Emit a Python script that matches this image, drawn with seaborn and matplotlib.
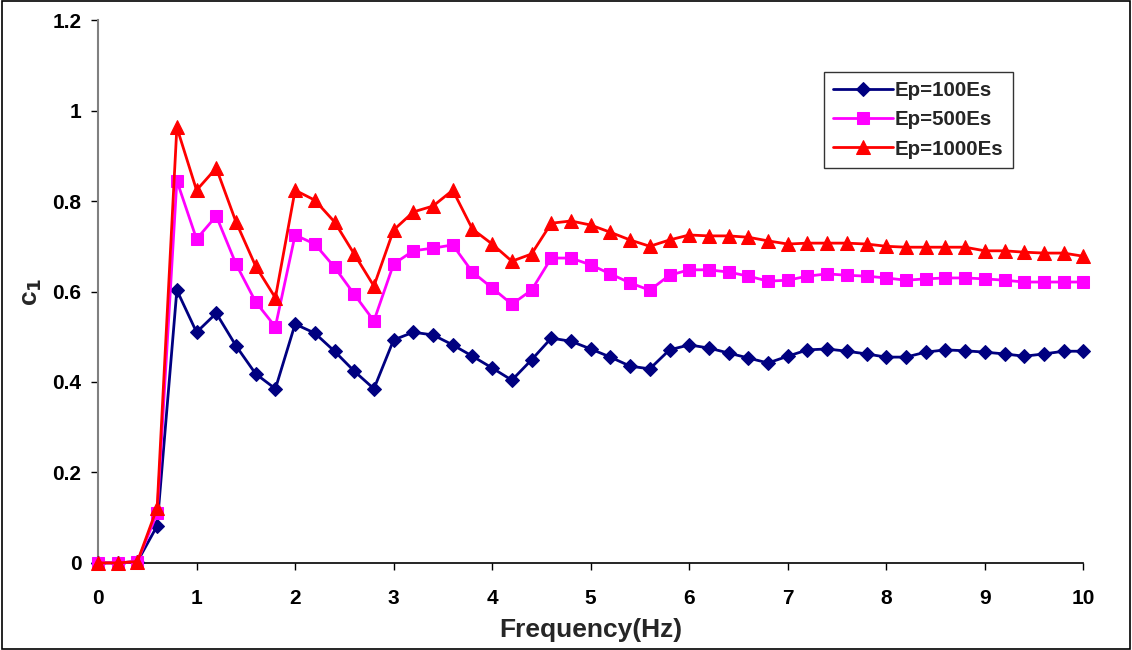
import numpy as np
import pandas as pd
import seaborn as sns
import matplotlib
matplotlib.use("Agg")
import matplotlib.pyplot as plt
from matplotlib.patches import Rectangle

freq = [round(0.2 * i, 1) for i in range(51)]

ep100 = [0, 0, 0.003, 0.082, 0.603, 0.51, 0.552, 0.48, 0.418, 0.385,
         0.528, 0.508, 0.468, 0.424, 0.385, 0.493, 0.51, 0.504, 0.482, 0.457,
         0.431, 0.404, 0.449, 0.497, 0.49, 0.473, 0.455, 0.435, 0.429, 0.471,
         0.482, 0.475, 0.464, 0.453, 0.442, 0.457, 0.471, 0.473, 0.468, 0.462,
         0.455, 0.455, 0.466, 0.471, 0.469, 0.466, 0.462, 0.457, 0.462, 0.468,
         0.468]
ep500 = [0, 0, 0.003, 0.11, 0.845, 0.716, 0.767, 0.661, 0.577, 0.522,
         0.725, 0.705, 0.654, 0.594, 0.535, 0.661, 0.69, 0.696, 0.703, 0.643,
         0.608, 0.572, 0.603, 0.674, 0.674, 0.659, 0.639, 0.619, 0.603, 0.636,
         0.648, 0.648, 0.643, 0.634, 0.623, 0.625, 0.634, 0.639, 0.636, 0.634,
         0.63, 0.625, 0.628, 0.63, 0.63, 0.628, 0.625, 0.621, 0.621, 0.621,
         0.621]
ep1000 = [0, 0, 0.003, 0.122, 0.963, 0.824, 0.873, 0.754, 0.656, 0.586,
          0.824, 0.802, 0.754, 0.683, 0.612, 0.736, 0.776, 0.789, 0.824, 0.738,
          0.705, 0.667, 0.683, 0.751, 0.756, 0.747, 0.731, 0.714, 0.7, 0.714,
          0.725, 0.723, 0.723, 0.72, 0.712, 0.705, 0.707, 0.707, 0.707, 0.705,
          0.7, 0.698, 0.698, 0.698, 0.698, 0.69, 0.69, 0.687, 0.685, 0.685,
          0.678]

labels = ["Ep=100Es", "Ep=500Es", "Ep=1000Es"]
series = [ep100, ep500, ep1000]
colors = {"Ep=100Es": "#000080", "Ep=500Es": "#FF00FF", "Ep=1000Es": "#FF0000"}
markers = {"Ep=100Es": "D", "Ep=500Es": "s", "Ep=1000Es": "^"}
msizes = {"Ep=100Es": 7.5, "Ep=500Es": 9, "Ep=1000Es": 10}

df = pd.concat([pd.DataFrame({"Frequency": freq, "c1": v, "Series": l})
                for l, v in zip(labels, series)], ignore_index=True)

sns.set_style("white")
plt.rcParams['font.family'] = ['Liberation Sans', 'DejaVu Sans']
plt.rcParams['font.weight'] = 'bold'

fig = plt.figure(figsize=(11.32, 6.5), dpi=100)
ax = fig.add_axes([0.0866, 0.134, 0.8704, 0.835])

for l in labels:
    sns.lineplot(data=df[df["Series"] == l], x="Frequency", y="c1",
                 color=colors[l], marker=markers[l], markersize=msizes[l],
                 markeredgecolor=colors[l], linewidth=2.0, label=l, ax=ax,
                 clip_on=False, zorder=3)

ax.set_xlim(0, 10)
ax.set_ylim(0, 1.2)
ax.set_xticks(range(0, 11))
ax.set_yticks([0, 0.2, 0.4, 0.6, 0.8, 1.0, 1.2])
ax.set_yticklabels(["0", "0.2", "0.4", "0.6", "0.8", "1", "1.2"])
ax.tick_params(axis='both', which='major', labelsize=15, length=5, width=1,
               direction='out', bottom=True, left=True, colors='black')
ax.tick_params(axis='x', pad=14)
ax.tick_params(axis='y', pad=7)
for t in ax.get_xticklabels() + ax.get_yticklabels():
    t.set_fontweight('bold')

ax.spines['top'].set_visible(False)
ax.spines['right'].set_visible(False)
ax.spines['left'].set_color('#808080')
ax.spines['left'].set_linewidth(1.5)
ax.spines['bottom'].set_color('black')
ax.spines['bottom'].set_linewidth(1.2)

ax.set_xlabel("Frequency(Hz)", fontsize=19, fontweight='bold', labelpad=7)
ax.set_ylabel("c$_\\mathbf{1}$", fontsize=19, fontweight='bold', labelpad=6)

leg = ax.legend(loc='upper left', bbox_to_anchor=(0.737, 0.905), fontsize=14.8,
                frameon=True, fancybox=False, edgecolor='black',
                handlelength=2.9, borderpad=0.45, labelspacing=0.5,
                handletextpad=0.1, borderaxespad=0)
leg.get_frame().set_linewidth(1.0)
for t in leg.get_texts():
    t.set_fontweight('bold')

fig.patches.append(Rectangle((0.002, 0.002), 0.996, 0.996, transform=fig.transFigure,
                             fill=False, edgecolor='black', linewidth=1.2))

fig.savefig("out.png", dpi=100)
